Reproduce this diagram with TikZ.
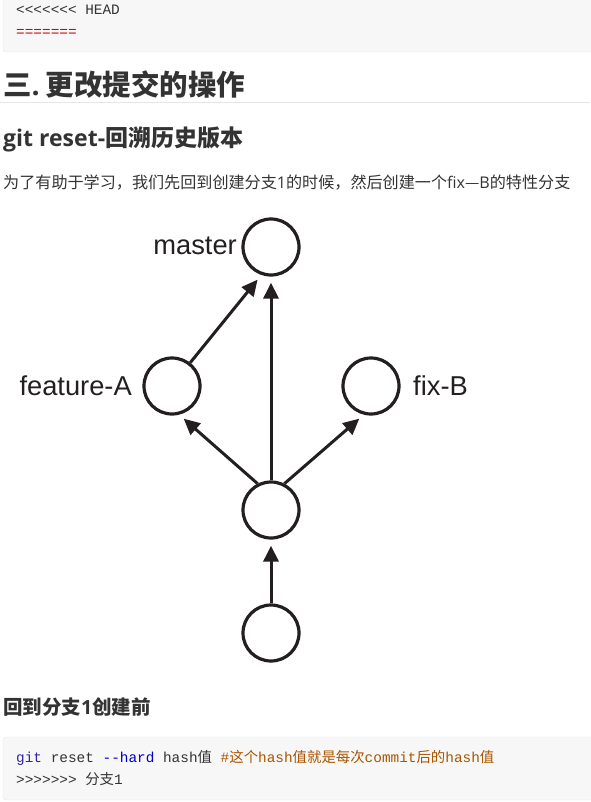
\documentclass[tikz,border=0pt]{standalone}
\usepackage{fontspec}
\usetikzlibrary{arrows.meta}
\setmainfont{Open Sans}
\setmonofont{Liberation Mono}
\newfontfamily\cjk{Noto Sans CJK SC}
\newfontfamily\lbl{Liberation Sans}
\definecolor{txt}{HTML}{333333}
\definecolor{codebg}{HTML}{F7F7F7}
\definecolor{codeborder}{HTML}{E6E6E6}
\definecolor{dia}{HTML}{231F20}
\definecolor{kwc}{HTML}{3322AA}
\definecolor{optc}{HTML}{0000CC}
\definecolor{cmc}{HTML}{AA5500}
\definecolor{redc}{HTML}{CC0000}
\tikzset{
  commit/.style={circle, draw=dia, line width=3.2pt, minimum size=56pt, inner sep=0pt},
  edge/.style={draw=dia, line width=3pt, -{Triangle[length=16pt,width=15pt]}, shorten >=6pt},
  lab/.style={font=\lbl\fontsize{27.3}{30}\selectfont, text=dia, inner sep=0pt},
  codetxt/.style={font=\ttfamily\fontsize{14.4}{17}\selectfont, text=txt, inner sep=0pt, anchor=base west},
  plain/.style={inner sep=0pt, anchor=base west, text=txt}
}
\begin{document}
\begin{tikzpicture}[x=1pt,y=-1pt]
\useasboundingbox (0,0) rectangle (590,802);
% top code block
\draw[fill=codebg, draw=codeborder, rounded corners=3pt] (3,-6) rectangle (600,52);
\node[codetxt] (head) at (16,15) {<<<<<<< HEAD};
\node[codetxt, text=redc] (sep) at (16,37) {=======};
% heading
\node[plain, font=\bfseries\fontsize{28.5}{32}\selectfont] (h1) at (3,96) {{\cjk\bfseries 三}.\hspace{0.2em}{\cjk\bfseries 更改提交的操作}};
\draw[draw=codeborder, line width=1pt] (0,103) -- (590,103);
% subheading
\node[plain, font=\bfseries\fontsize{23}{26}\selectfont] (h2) at (3,147) {git reset-{\cjk\bfseries 回溯历史版本}};
% paragraph
\node[plain, font=\fontsize{16.1}{19}\selectfont] (para) at (3,189) {{\cjk 为了有助于学习，我们先回到创建分支}1{\cjk 的时候，然后创建一个}fix{\cjk —}B{\cjk 的特性分支}};
% diagram
\node[commit] (master) at (271,247) {};
\node[commit] (fa) at (172,386) {};
\node[commit] (fb) at (371,386) {};
\node[commit] (mid) at (271,510) {};
\node[commit] (bot) at (271,633) {};
\node[lab, anchor=base east] (lmaster) at (237,254) {master};
\node[lab, anchor=base east] (lfa) at (132,395) {feature-A};
\node[lab, anchor=base west] (lfb) at (413,395) {fix-B};
\draw[edge] (fa.52) -- (master.-109);
\draw[edge] (mid) -- (master);
\draw[edge] (mid.117) -- (fa.-76);
\draw[edge] (mid.63) -- (fb.-104);
\draw[edge] (bot) -- (mid);
% subheading 2
\node[plain, font=\bfseries\fontsize{19.5}{22}\selectfont] (h3) at (3,714) {{\cjk\bfseries 回到分支}1{\cjk\bfseries 创建前}};
% bottom code block
\draw[fill=codebg, draw=codeborder, rounded corners=3pt] (3,737) rectangle (600,800);
\node[codetxt] (code1) at (16,762) {{\color{kwc}git} reset {\color{optc}-{}-hard} hash{\cjk 值} {\color{cmc}\#{\cjk 这个}hash{\cjk 值就是每次}commit{\cjk 后的}hash{\cjk 值}}};
\node[codetxt] (code2) at (16,784) {>>>>>>> {\cjk 分支}1};
\end{tikzpicture}
\end{document}
